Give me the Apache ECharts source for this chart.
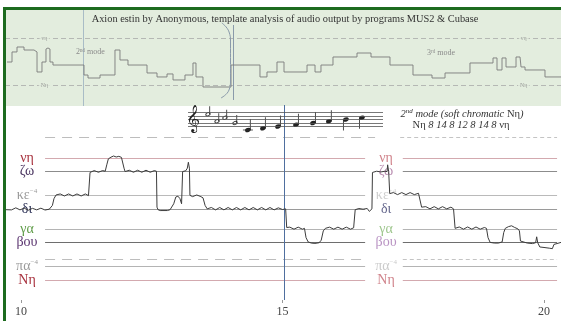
<!DOCTYPE html>
<html>
<head>
<meta charset="utf-8">
<script src="https://cdn.jsdelivr.net/npm/echarts@6/dist/echarts.min.js"></script>
<style>
html,body{margin:0;padding:0;background:#fff;}
#main{width:561px;height:321px;}
</style>
</head>
<body>
<div id="main"></div>
<script>
// time axis ticks (seconds)
var tickLabels = [10, 15, 20];

// pitch levels in moria above Nη (2nd mode, soft chromatic: 8 14 8 12 8 14 8)
var pitchNames = ['Νη', 'πα', 'βου', 'γα', 'δι', 'κε', 'ζω', 'νη'];
var pitchMoria = [0, 8, 22, 30, 42, 50, 64, 72];
var pitchSup = ['', '−4', '', '', '', '−4', '', ''];
var dashedMoria = [12, 84];

// analysed pitch contour [seconds, moria]
var contour = [
  [9.713,41.5],[9.75,42.6],[9.82,41.4],[9.90,42.6],[9.98,41.4],[10.06,42.4],[10.14,41.2],[10.22,42.3],
  [10.30,41.4],[10.38,42.4],[10.46,41.3],[10.54,41.8],[10.60,44],[10.63,48],[10.67,50.2],
  [10.75,50.8],[10.83,49.6],[10.91,50.8],[10.99,49.6],[11.07,50.8],[11.15,49.6],[11.23,50.8],[11.29,49.8],
  [11.31,49.5],[11.32,63.5],[11.40,64.6],[11.48,63.6],[11.56,64.6],[11.61,64.2],
  [11.64,68],[11.67,71.5],[11.72,72.5],[11.77,73.2],[11.82,72.6],[11.87,73.0],[11.92,72.4],[11.95,71.5],
  [11.97,66],[11.99,64],[12.07,64.8],[12.15,63.6],[12.23,64.8],[12.31,63.6],[12.39,64.8],[12.47,63.6],[12.55,64.6],[12.59,64.2],
  [12.60,43],[12.62,41.5],[12.66,41],[12.80,41],[12.85,41.5],
  [12.92,45],[12.96,49],[13.00,49.5],[13.04,48],[13.07,45],
  [13.08,45],[13.09,64],[13.15,64.5],[13.18,66],[13.20,69.5],[13.22,66],[13.23,50],
  [13.28,49.2],[13.36,50.2],[13.44,49.2],[13.48,48.5],[13.52,44],[13.56,42],
  [13.64,42.8],[13.72,41.4],[13.80,42.8],[13.88,41.4],[13.96,42.8],[14.04,41.4],[14.12,42.8],[14.20,41.4],
  [14.28,42.8],[14.36,41.4],[14.44,42.8],[14.52,41.4],[14.60,42.8],[14.68,41.4],[14.76,42.8],[14.84,41.4],
  [14.92,42.6],[15.00,41.6],[15.06,42],[15.08,31],
  [15.14,31.2],[15.22,30],[15.30,31.2],[15.38,30],[15.42,30.5],
  [15.45,25],[15.49,22.5],[15.55,21.8],[15.62,21.6],[15.70,22],[15.74,23.5],[15.78,29],[15.82,30.5],
  [15.90,31.2],[15.98,30],[16.06,31.2],[16.14,30],[16.22,31.2],[16.30,30],[16.36,30.8],
  [16.38,31],[16.39,41.5],[16.46,42.2],[16.54,41.8],[16.62,42.2],[16.66,40.5],[16.69,41.5],
  [16.71,42],[16.72,63.5],[16.80,64.2],[16.88,63.8],[16.96,64.2],[17.00,64],
  [17.01,68],[17.03,64],[17.05,51],
  [17.12,51.6],[17.20,50.4],[17.28,51.6],[17.36,50.4],[17.44,51.6],[17.52,50.4],[17.60,51.2],
  [17.63,51],[17.66,43],[17.74,43.3],[17.82,42],[17.90,43.3],[17.98,42],[18.06,43.3],[18.14,42],[18.22,43],[18.25,42.6],
  [18.27,42],[18.30,30.5],[18.38,31.3],[18.46,30],[18.54,31.3],[18.62,30],[18.70,31.3],[18.78,30],[18.86,31],[18.90,30.5],
  [18.93,25],[18.97,22.2],[19.05,21.8],[19.13,21.8],[19.20,22.5],
  [19.23,28],[19.26,30.5],[19.32,31.5],[19.38,32],[19.44,31],[19.50,30.2],[19.53,29],
  [19.55,23],[19.58,22],[19.68,21.8],[19.78,21.5],[19.84,22],
  [19.86,25.5],[19.88,22],[19.92,19.5],[20.00,19.2],[20.10,18.8],[20.16,18.5],
  [20.19,21],[20.22,22],[20.325,22.2]
];

// whole-piece overview contour [% of piece, moria]
var overview = [
  [0.36,35.2],[1.26,35.2],[1.26,50.6],[2.16,50.6],[2.16,58.2],[3.42,58.2],[3.42,53.6],[5.22,53.6],[5.22,50.6],
  [5.76,50.6],[5.76,19.9],[6.65,19.9],[6.65,35.2],[7.37,35.2],[7.37,55.1],[7.73,56.7],[8.09,55.1],[8.09,35.2],
  [8.63,35.2],[8.63,30.6],[14.21,30.6],[14.21,15.3],[14.93,15.3],[14.93,10.7],[17.09,10.7],[17.09,15.3],
  [19.78,15.3],[19.78,53.6],[20.68,53.6],[20.68,38.3],[22.12,38.3],[22.12,30.6],[25.54,30.6],[25.54,18.4],
  [27.34,18.4],[27.34,12.3],[29.14,12.3],[29.14,16.9],[30.22,16.9],[30.22,7.7],[32.37,7.7],[32.37,15.3],
  [33.81,15.3],[33.81,33.7],[34.35,33.7],[34.35,12.3],[35.61,12.3],[35.61,-3.1],[40.65,-3.1],[40.65,30.6],
  [45.86,30.6],[45.86,12.3],[47.12,12.3],[47.12,19.9],[48.92,19.9],[48.92,35.2],[50.18,35.2],[50.18,19.9],
  [54.32,19.9],[54.32,30.6],[55.76,30.6],[55.76,19.9],[56.83,19.9],[56.83,30.6],[58.99,30.6],[58.99,42.9],
  [63.31,42.9],[63.31,49.0],[65.83,49.0],[65.83,42.9],[69.24,42.9],[69.24,30.6],[73.38,30.6],[73.38,15.3],
  [76.80,15.3],[76.80,10.7],[79.14,10.7],[79.14,18.4],[83.63,18.4],[83.63,33.7],[87.77,33.7],[87.77,41.4],
  [88.49,41.4],[88.49,23.0],[89.39,23.0],[89.39,41.4],[90.11,41.4],[90.11,27.6],[91.91,27.6],[91.91,42.9],
  [92.63,42.9],[92.81,27.6],[93.53,27.6],[93.53,23.0],[97.12,23.0],[97.12,12.3],[100,12.3]
];
var overviewBracket = [[39.0,95.0],[40.3,81.2],[40.56,65.9],[40.56,7.7],[40.29,-7.7],[38.85,-19.9]];
var overviewWindow = [41.0, -23, 91.9];
var overviewMode2 = 14.03;
var ovLabelNames = ['νη', 'Νη'];
var ovLabelMoria = [72, 0];

// staff: line steps (E4=0) and notes [beat, step, kind 0=stem up,1=stem down,2=small]
var staffSteps = [0, 2, 4, 6, 8];
var notes = [
  [1.23,7,2],[1.79,3,2],[2.28,5,2],[2.90,2,2],
  [3.70,-2,0],[4.63,-1,0],[5.56,0,0],[6.67,1,0],[7.72,2,0],[8.70,3,0],[9.75,4,1],[10.74,5,1]
];
var playPosition = 15.038;

// styles
var leftColors = ['#a8323e', '#9a9a9a', '#5b3570', '#5f9c48', '#2c3157', '#9a9a9a', '#4a3560', '#a8323e'];
var midColors = ['#c4646e', '#bdbdbd', '#a878b4', '#86b870', '#3c3f6e', '#c2c2c2', '#a8709c', '#c4646e'];
var lineColors = ['#d3a9af', '#b4b4b4', '#6e6e6e', '#b4b4b4', '#9a9a9a', '#bababa', '#8c8c8c', '#d3a9af'];
var serif = 'Liberation Serif';
var L0 = 10.46, L1 = 16.58, R0 = 17.30, R1 = 20.25, MID = 16.98;

var myChart = echarts.init(document.getElementById('main'));

function pitchRich(colors) {
  var rich = {};
  colors.forEach(function (c, i) {
    rich['c' + i] = {color: c, fontFamily: serif, fontSize: 14, lineHeight: 15};
    rich['s' + i] = {color: c, fontFamily: serif, fontSize: 7, verticalAlign: 'top', lineHeight: 15};
  });
  return rich;
}
function pitchText(i) {
  return '{c' + i + '|' + pitchNames[i] + '}' + (pitchSup[i] ? '{s' + i + '|' + pitchSup[i] + '}' : '');
}
// two left axes with alternating level labels, so close labels are not hidden
function levelAxis(parity) {
  return {
    gridIndex: 1, type: 'value', min: -11.8, max: 103.3, position: 'left',
    axisLine: {show: false, onZero: false}, axisTick: {show: false}, splitLine: {show: false},
    axisLabel: {inside: true, align: 'center', margin: 21,
      customValues: pitchMoria.filter(function (m, i) { return i % 2 === parity; }),
      showMinLabel: true, showMaxLabel: true,
      formatter: function (v) { return pitchText(pitchMoria.indexOf(v)); },
      rich: pitchRich(leftColors)}
  };
}

var lines = [];
pitchMoria.forEach(function (m, i) {
  var ls = {color: lineColors[i], width: 1, type: 'solid'};
  lines.push([{coord: [L0, m], lineStyle: ls}, {coord: [L1, m]}]);
  lines.push([{coord: [R0, m], lineStyle: ls}, {coord: [R1, m]}]);
});
dashedMoria.forEach(function (m) {
  lines.push([{coord: [L0, m], lineStyle: {color: '#bdbdbd', width: 1, type: [10, 7]}}, {coord: [m > 80 ? 16.77 : L1, m]}]);
  lines.push([{coord: [m > 80 ? 17.25 : R0, m], lineStyle: {color: '#c4c4c4', width: 1, type: [4, 3]}}, {coord: [R1, m]}]);
});
lines.push({xAxis: playPosition, lineStyle: {color: '#4f6f9f', width: 1, type: 'solid'}});

function renderNote(params, api) {
  var p = api.coord([api.value(0), api.value(1)]);
  var step = api.value(1), kind = api.value(2);
  var small = kind === 2;
  var r = small ? 1.6 : 2.1, sx = 1.4;
  var hw = r * sx;
  var kids = [{
    type: 'circle', x: p[0], y: p[1], rotation: 0.4, scaleX: sx,
    shape: {cx: 0, cy: 0, r: r},
    style: small ? {fill: 'none', stroke: '#333', lineWidth: 0.8} : {fill: '#222'}
  }];
  var up = kind !== 1;
  var stemX = up ? p[0] + hw - 0.5 : p[0] - hw + 0.5;
  kids.push({type: 'line', shape: {x1: stemX, y1: p[1], x2: stemX, y2: p[1] + (up ? -1 : 1) * (small ? 8 : 11)},
    style: {stroke: '#222', lineWidth: 0.8}});
  if (step <= -2) {
    var ly = api.coord([0, -2])[1];
    kids.push({type: 'line', shape: {x1: p[0] - 5, y1: ly, x2: p[0] + 5, y2: ly}, style: {stroke: '#333', lineWidth: 0.8}});
  }
  return {type: 'group', children: kids};
}

option = {
  animation: false,
  graphic: [
    {type: 'text', x: 285, y: 19, z: 50, style: {text: 'Axion estin by Anonymous, template analysis of audio output by programs MUS2 & Cubase',
      fontFamily: serif, fontSize: 10.4, fill: '#333', align: 'center', verticalAlign: 'middle'}},
    {type: 'text', x: 76, y: 52, z: 50, style: {text: '2ⁿᵈ mode', fontFamily: serif, fontSize: 8, fill: '#8a8a8a', verticalAlign: 'middle'}},
    {type: 'text', x: 427, y: 53, z: 50, style: {text: '3ʳᵈ mode', fontFamily: serif, fontSize: 8, fill: '#8a8a8a', verticalAlign: 'middle'}},
    {type: 'text', x: 193, y: 120, z: 50, style: {text: '𝄞', fontFamily: 'DejaVu Sans', fontSize: 24, fill: '#222', align: 'center', verticalAlign: 'middle'}},
    {type: 'text', x: 462, y: 114, z: 50, style: {
      text: '{i|2}{sup|nd}{i| mode (soft chromatic }{n|Νη}{i|)}',
      align: 'center', verticalAlign: 'middle',
      rich: {
        i: {fontFamily: serif, fontStyle: 'italic', fontSize: 10.5, fill: '#333', lineHeight: 12},
        sup: {fontFamily: serif, fontStyle: 'italic', fontSize: 7, fill: '#333', verticalAlign: 'top', lineHeight: 12},
        n: {fontFamily: serif, fontSize: 10.5, fill: '#333', lineHeight: 12}
      }}},
    {type: 'text', x: 461, y: 125, z: 50, style: {
      text: '{n|Νη }{i|8 14 8 12 8 14 8 }{n|νη}',
      align: 'center', verticalAlign: 'middle',
      rich: {
        i: {fontFamily: serif, fontStyle: 'italic', fontSize: 10.5, fill: '#333'},
        n: {fontFamily: serif, fontSize: 10.5, fill: '#333'}
      }}},
    {type: 'rect', z: 100, shape: {x: 3, y: 7, width: 558, height: 3}, style: {fill: '#1d6b1f'}},
    {type: 'rect', z: 100, shape: {x: 3, y: 7, width: 3, height: 314}, style: {fill: '#1d6b1f'}}
  ],
  grid: [
    {left: 5, right: 0, top: 10, height: 96, show: true, backgroundColor: '#e3edde', borderWidth: 0},
    {left: 6, right: 0, top: 105, bottom: 21},
    {left: 188, width: 195, top: 108, height: 28}
  ],
  xAxis: [
    {gridIndex: 0, type: 'value', min: 0, max: 100, show: false},
    {gridIndex: 1, type: 'value', min: 9.713, max: 20.325, position: 'bottom',
      axisLine: {show: false, onZero: false}, splitLine: {show: false},
      axisTick: {show: true, customValues: tickLabels, length: 3, lineStyle: {color: '#999'}},
      axisLabel: {customValues: tickLabels, margin: 6, color: '#444', fontFamily: serif, fontSize: 12}},
    {gridIndex: 2, type: 'value', min: 0, max: 12.04, show: false}
  ],
  yAxis: [
    {gridIndex: 0, type: 'value', min: -32.2, max: 114.9, show: false},
    levelAxis(0),
    {gridIndex: 2, type: 'value', min: -5.43, max: 10.57, show: false},
    levelAxis(1)
  ],
  series: [
    {
      type: 'line', xAxisIndex: 0, yAxisIndex: 0, data: overview, showSymbol: false, silent: true,
      lineStyle: {color: '#7a7a7a', width: 0.9},
      markLine: {
        silent: true, symbol: ['none', 'none'], label: {show: false}, z: 1,
        data: [
          {yAxis: 72, lineStyle: {color: '#a9a9a9', width: 0.8, type: [5, 3]}},
          {yAxis: 0, lineStyle: {color: '#a9a9a9', width: 0.8, type: [5, 3]}},
          {xAxis: overviewMode2, lineStyle: {color: '#a9bcc6', width: 1, type: 'solid'}},
          [{coord: [overviewWindow[0], overviewWindow[1]], lineStyle: {color: '#8a9aaa', width: 1, type: 'solid'}},
           {coord: [overviewWindow[0], overviewWindow[2]]}]
        ]
      }
    },
    {
      type: 'line', xAxisIndex: 0, yAxisIndex: 0, data: overviewBracket, smooth: true, showSymbol: false, silent: true,
      lineStyle: {color: '#8a9aaa', width: 1}
    },
    {
      type: 'scatter', xAxisIndex: 0, yAxisIndex: 0, silent: true, symbolSize: 1,
      itemStyle: {color: 'transparent'},
      data: ovLabelMoria.map(function (m, i) { return [7.1, m, ovLabelNames[i]]; })
        .concat(ovLabelMoria.map(function (m, i) { return [93.3, m, ovLabelNames[i]]; })),
      label: {show: true, position: 'inside', formatter: function (p) { return p.value[2]; },
        fontFamily: serif, fontSize: 6, color: '#888', backgroundColor: '#e3edde', padding: [0, 2]}
    },
    {
      type: 'line', xAxisIndex: 1, yAxisIndex: 1, data: contour, showSymbol: false, silent: true, z: 3,
      lineStyle: {color: '#3c3c3c', width: 1},
      markLine: {silent: true, symbol: ['none', 'none'], label: {show: false}, z: 1, data: lines}
    },
    {
      type: 'scatter', xAxisIndex: 1, yAxisIndex: 1, silent: true, symbolSize: 1,
      itemStyle: {color: 'transparent'},
      data: pitchMoria.map(function (m) { return [MID, m]; }),
      label: {show: true, position: 'inside', formatter: function (p) { return pitchText(p.dataIndex); },
        rich: pitchRich(midColors)}
    },
    {
      type: 'custom', xAxisIndex: 2, yAxisIndex: 2, data: notes, renderItem: renderNote, silent: true, z: 4,
      markLine: {
        silent: true, symbol: ['none', 'none'], label: {show: false},
        lineStyle: {color: '#555', width: 0.8, type: 'solid'},
        data: staffSteps.map(function (s) { return {yAxis: s}; })
      }
    }
  ]
};
myChart.setOption(option);
</script>
</body>
</html>
